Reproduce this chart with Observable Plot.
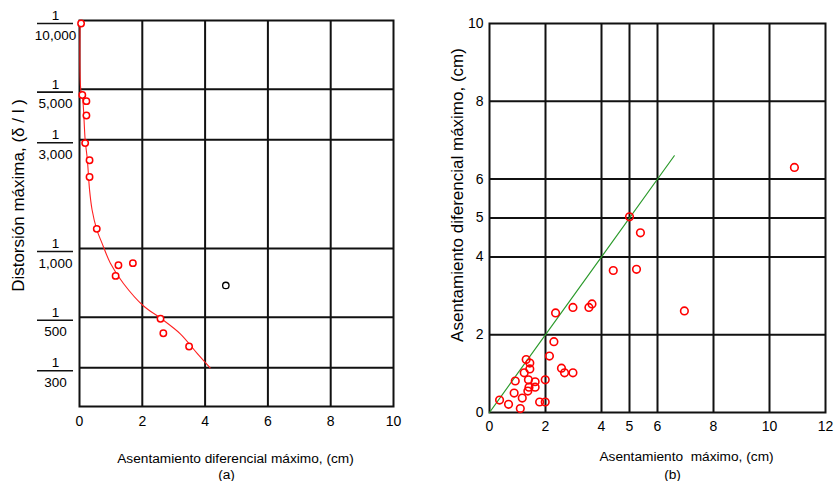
<!DOCTYPE html>
<html><head><meta charset="utf-8">
<script src="https://cdn.jsdelivr.net/npm/d3@7"></script>
<script src="https://cdn.jsdelivr.net/npm/@observablehq/plot@0.6"></script>
<style>
body{margin:0;background:#fff;width:834px;height:481px;overflow:hidden;position:relative}
#a{position:absolute;left:0;top:0}
#b{position:absolute;left:420px;top:0}
</style></head><body><div id="a"></div><div id="b"></div>
<script>
// ---------- Panel (a) data ----------
const distDenominators = [10000, 5000, 3000, 1000, 500, 300];
const aTicksX = [0, 2, 4, 6, 8, 10];
const aGridX = [2, 4, 6, 8];
const aPointX = [0.05, 0.09, 0.22, 0.22, 0.18, 0.32, 0.32, 0.55, 1.24, 1.70, 1.15, 2.58, 2.67, 3.49];
const aPointN = [9700, 4710, 4430, 3830, 2900, 2440, 2060, 1220, 845, 863, 759, 492, 425, 372];
const aOutlierX = [4.66];
const aOutlierN = [689];
const aCurveX = [0.02, 0.04, 0.10, 0.18, 0.25, 0.32, 0.40, 0.55, 0.71, 0.98, 1.40, 2.04, 2.57, 3.21, 3.74, 4.16];
const aCurveN = [10000, 5000, 4550, 3000, 2450, 1810, 1480, 1210, 1062, 865, 703, 560, 497, 423, 348, 300];

// ---------- Panel (b) data ----------
const bTicksX = [0, 2, 4, 5, 6, 8, 10, 12];
const bTicksY = [0, 2, 4, 5, 6, 8, 10];
const bGridX = [2, 4, 5, 6, 8, 10];
const bGridY = [2, 4, 5, 6, 8];
const bX = [10.89, 5.00, 5.39, 4.42, 5.25, 6.96, 2.98, 3.55, 3.66, 2.36, 2.30, 2.14, 2.57, 2.68, 2.98, 1.99, 1.99, 1.79,
            1.31, 1.44, 1.44, 1.24, 0.92, 1.39, 1.63, 1.63, 1.41, 1.37, 0.88, 1.17, 0.36, 0.68, 1.10];
const bY = [6.30, 5.03, 4.62, 3.65, 3.68, 2.61, 2.70, 2.70, 2.79, 2.56, 1.82, 1.45, 1.14, 1.02, 1.02, 0.84, 0.27, 0.27,
            1.36, 1.27, 1.12, 1.02, 0.81, 0.84, 0.79, 0.65, 0.65, 0.55, 0.50, 0.37, 0.32, 0.21, 0.10];
const bFitX = [0, 6.6];
const bFitY = [0, 6.6];

const font = "'Liberation Sans',Arial,sans-serif";
const ink = "#111";
const fmt = d3.format(",");

const aPoints = aPointX.map((x, i) => ({x, y: 1 / aPointN[i]}));
const aOut = aOutlierX.map((x, i) => ({x, y: 1 / aOutlierN[i]}));
const aCurve = aCurveX.map((x, i) => ({x, y: 1 / aCurveN[i]}));

const plotA = Plot.plot({
  width: 420, height: 481,
  marginLeft: 79, marginRight: 27, marginTop: 20, marginBottom: 75,
  style: {fontFamily: font, fontSize: "14px", color: "#000", background: "#fff", overflow: "visible"},
  x: {domain: [0, 10]},
  y: {type: "log", domain: [1 / 10000, 1 / 203], reverse: true},
  marks: [
    Plot.gridX(aGridX, {stroke: ink, strokeOpacity: 1, strokeWidth: 2}),
    Plot.gridY(distDenominators.slice(1).map(d => 1 / d), {stroke: ink, strokeOpacity: 1, strokeWidth: 2}),
    Plot.frame({stroke: ink, strokeWidth: 2}),
    Plot.axisX(aTicksX, {tickSize: 0, tickPadding: 10, label: null, fontSize: 14}),
    Plot.axisY(distDenominators.map(d => 1 / d), {
      tickSize: 36, dx: -6, tickPadding: -18, textAnchor: "middle", lineHeight: 1.45, dy: 3,
      strokeWidth: 1.6, stroke: ink, fill: "#000",
      tickFormat: d => `1\n${fmt(Math.round(1 / d))}`, label: null, fontSize: 13.5
    }),
    Plot.line(aCurve, {x: "x", y: "y", stroke: "#ff2020", strokeWidth: 1.1, curve: "catmull-rom"}),
    Plot.dot(aPoints, {x: "x", y: "y", r: 3.2, stroke: "#ff0000", strokeWidth: 1.5, fill: "#fff"}),
    Plot.dot(aOut, {x: "x", y: "y", r: 3.2, stroke: "#000", strokeWidth: 1.3, fill: "#fff"}),
    Plot.text(["Asentamiento diferencial máximo, (cm)"], {frameAnchor: "bottom", textAnchor: "middle", dx: -1, dy: 52, lineAnchor: "middle", fontSize: 13.7}),
    Plot.text(["(a)"], {frameAnchor: "bottom", textAnchor: "middle", dx: -10, dy: 68, lineAnchor: "middle", fontSize: 13.7}),
    Plot.text(["Distorsión máxima, (δ / l )"], {frameAnchor: "left", textAnchor: "middle", rotate: -90, dx: -61, dy: -18, lineAnchor: "middle", fontSize: 17})
  ]
});
document.getElementById("a").append(plotA);

const bPoints = bX.map((x, i) => ({x, y: bY[i]}));
const bFit = bFitX.map((x, i) => ({x, y: bFitY[i]}));

const plotB = Plot.plot({
  width: 414, height: 481,
  marginLeft: 69, marginRight: 9, marginTop: 23, marginBottom: 69,
  style: {fontFamily: font, fontSize: "14px", color: "#000", background: "#fff", overflow: "visible"},
  x: {domain: [0, 12]},
  y: {domain: [0, 10]},
  marks: [
    Plot.gridX(bGridX, {stroke: ink, strokeOpacity: 1, strokeWidth: 2}),
    Plot.gridY(bGridY, {stroke: ink, strokeOpacity: 1, strokeWidth: 2}),
    Plot.frame({stroke: ink, strokeWidth: 2}),
    Plot.axisX(bTicksX, {tickSize: 0, tickPadding: 9, label: null, fontSize: 14}),
    Plot.axisY(bTicksY, {tickSize: 0, tickPadding: 6, label: null, fontSize: 14}),
    Plot.line(bFit, {x: "x", y: "y", stroke: "#2b9a2b", strokeWidth: 1.2}),
    Plot.dot(bPoints, {x: "x", y: "y", r: 3.8, stroke: "#ff0000", strokeWidth: 1.6, fill: "none"}),
    Plot.text(["Asentamiento\u00a0 máximo, (cm)"], {frameAnchor: "bottom", textAnchor: "middle", dx: 29, dy: 44, lineAnchor: "middle", fontSize: 13.7}),
    Plot.text(["(b)"], {frameAnchor: "bottom", textAnchor: "middle", dx: 15, dy: 62, lineAnchor: "middle", fontSize: 13.7}),
    Plot.text(["Asentamiento diferencial máximo, (cm)"], {frameAnchor: "left", textAnchor: "middle", rotate: -90, dx: -32, dy: -23, lineAnchor: "middle", fontSize: 17})
  ]
});
document.getElementById("b").append(plotB);
</script>
</body></html>
